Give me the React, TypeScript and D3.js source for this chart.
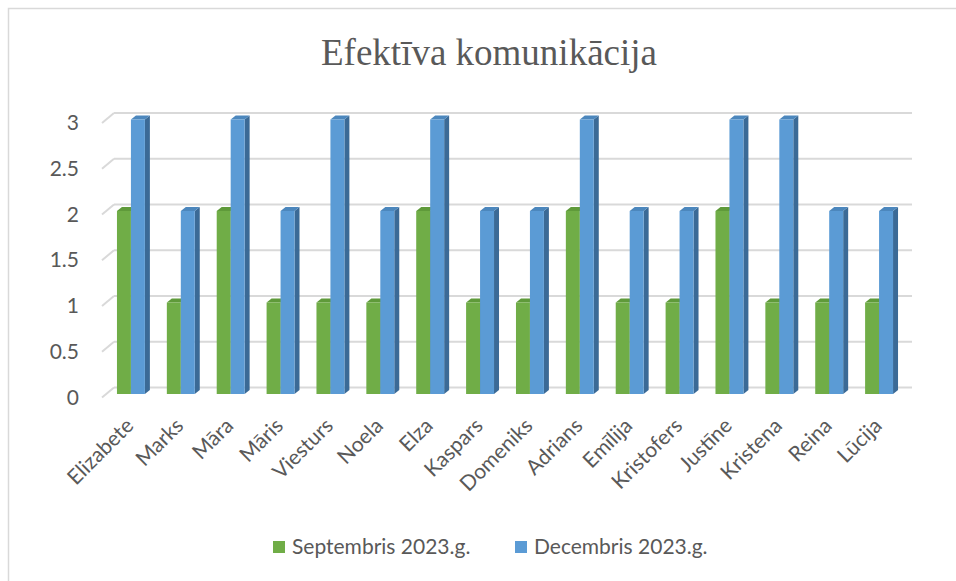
import { useMemo } from "react";
import * as d3 from "d3";

const WIDTH = 956;
const HEIGHT = 581;

const names = [
  "Elizabete", "Marks", "Māra", "Māris", "Viesturs", "Noela", "Elza", "Kaspars",
  "Domeniks", "Adrians", "Emīlija", "Kristofers", "Justīne", "Kristena", "Reina", "Lūcija",
];
const septembris = [2, 1, 2, 1, 1, 1, 2, 1, 1, 2, 1, 1, 2, 1, 1, 1];
const decembris = [3, 2, 3, 2, 3, 2, 3, 2, 2, 3, 2, 2, 3, 3, 2, 2];
const yTicks = [0, 0.5, 1, 1.5, 2, 2.5, 3];
const seriesNames = ["Septembris 2023.g.", "Decembris 2023.g."];

const COLORS = [
  { front: "#70ad47", side: "#4f7d31", top: "#5f9a3a" },
  { front: "#5b9bd5", side: "#3b6a96", top: "#4c87bd" },
];

// 3D offsets
const DEPTH = { dx: 5, dy: -4 };
const WALL = { dx: 12, dy: -10 };

const FONT = "Lato, 'Open Sans', sans-serif";

export default function App() {
  const x = useMemo(
    () => d3.scaleBand<string>().domain(names).range([102, 908]).paddingInner(0.44).paddingOuter(0.3),
    []
  );
  const xSeries = useMemo(
    () => d3.scaleBand<number>().domain([0, 1]).range([0, x.bandwidth()]),
    [x]
  );
  // y for the bar fronts
  const y = useMemo(() => d3.scaleLinear().domain([0, 3]).range([394, 119.5]), []);
  const yWall = (v: number) => y(v) - 6.5;

  const wallLeft = 114;
  const wallRight = 912;

  const bar = (i: number, s: number, v: number) => {
    const c = COLORS[s];
    const x0 = (x(names[i]) ?? 0) + (xSeries(s) ?? 0);
    const w = xSeries.bandwidth();
    const y0 = y(v);
    const yb = y(0);
    const { dx, dy } = DEPTH;
    return (
      <g key={`${s}-${i}`}>
        <polygon
          points={`${x0 + w},${y0} ${x0 + w + dx},${y0 + dy} ${x0 + w + dx},${yb + dy} ${x0 + w},${yb}`}
          fill={c.side}
        />
        <polygon
          points={`${x0},${y0} ${x0 + dx},${y0 + dy} ${x0 + w + dx},${y0 + dy} ${x0 + w},${y0}`}
          fill={c.top}
        />
        <rect x={x0} y={y0} width={w} height={yb - y0} fill={c.front} />
      </g>
    );
  };

  return (
    <svg
      width={WIDTH}
      height={HEIGHT}
      style={{ position: "absolute", left: 0, top: 0, background: "#fff" }}
    >
      <rect x={8.5} y={8.5} width={1000} height={1000} fill="#fff" stroke="#d9d9d9" strokeWidth={1.5} />

      <text
        x={489}
        y={65}
        textAnchor="middle"
        fontFamily="'Liberation Serif', 'Times New Roman', serif"
        fontSize={37}
        fill="#595959"
      >
        Efektīva komunikācija
      </text>

      {/* gridlines: back wall + left side diagonal */}
      {yTicks.map((t) => (
        <g key={t} stroke="#d9d9d9" strokeWidth={2} fill="none">
          <line x1={wallLeft} x2={wallRight} y1={yWall(t)} y2={yWall(t)} />
          <line x1={wallLeft - WALL.dx} y1={yWall(t) - WALL.dy} x2={wallLeft} y2={yWall(t)} />
        </g>
      ))}

      {/* y labels */}
      {yTicks.map((t) => (
        <text
          key={t}
          x={79}
          y={yWall(t) - WALL.dy + 7}
          textAnchor="end"
          fontFamily={FONT}
          fontSize={21}
          fill="#595959"
        >
          {t}
        </text>
      ))}

      {/* bars */}
      {names.map((_, i) => (
        <g key={i}>
          {bar(i, 0, septembris[i])}
          {bar(i, 1, decembris[i])}
        </g>
      ))}

      {/* x labels */}
      {names.map((n) => {
        const cx = (x(n) ?? 0) + x.bandwidth() / 2 + 4;
        const cy = 427;
        return (
          <text
            key={n}
            transform={`translate(${cx},${cy}) rotate(-45)`}
            textAnchor="end"
            fontFamily={FONT}
            fontSize={21}
            fill="#595959"
          >
            {n}
          </text>
        );
      })}

      {/* legend */}
      {seriesNames.map((s, i) => {
        const lx = i === 0 ? 273 : 515;
        return (
          <g key={s}>
            <rect x={lx} y={541} width={12} height={12} fill={COLORS[i].front} />
            <text x={lx + 19} y={554} fontFamily={FONT} fontSize={21} fill="#595959">
              {s}
            </text>
          </g>
        );
      })}
    </svg>
  );
}
